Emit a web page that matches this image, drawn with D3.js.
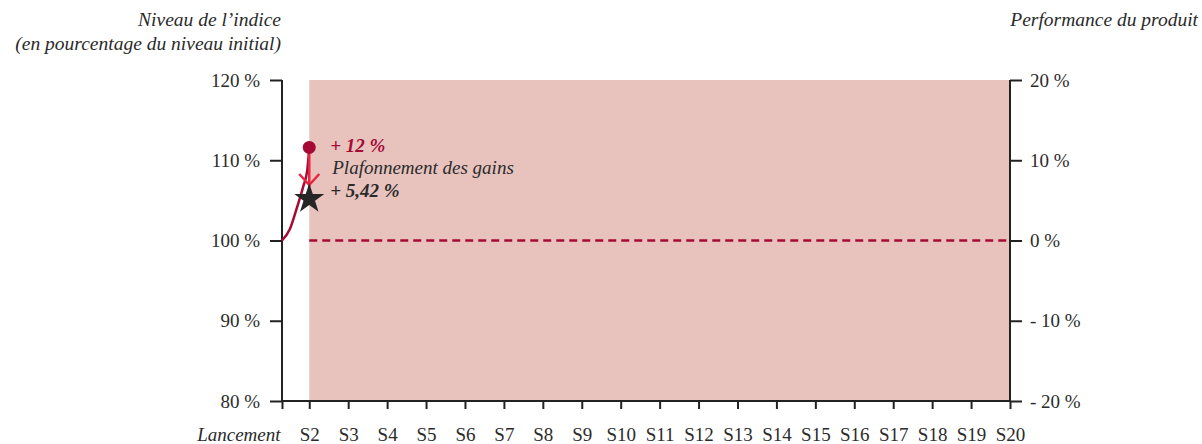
<!DOCTYPE html>
<html>
<head>
<meta charset="utf-8">
<script src="https://cdn.jsdelivr.net/npm/d3@7"></script>
<style>
  html, body { margin: 0; background: #fff; }
  text { font-family: "Liberation Serif", "DejaVu Serif", serif; fill: #2b2b2b; }
</style>
</head>
<body>
<script>
// observation dates: Lancement then S2..S20
const obsLabels = ['Lancement', 'S2', 'S3', 'S4', 'S5', 'S6', 'S7', 'S8', 'S9', 'S10',
  'S11', 'S12', 'S13', 'S14', 'S15', 'S16', 'S17', 'S18', 'S19', 'S20'];
const obsPos = [1.3, 2, 3, 4, 5, 6, 7, 8, 9, 10, 11, 12, 13, 14, 15, 16, 17, 18, 19, 20];

const leftTicks = [80, 90, 100, 110, 120];
const rightTicks = [-20, -10, 0, 10, 20];
const rightLabels = ['- 20 %', '- 10 %', '0 %', '10 %', '20 %'];

// index path between launch and S2
const indexPath = [[1.3, 100], [1.5, 101.4], [1.69, 104.2], [1.85, 106.8], [1.95, 108.8], [2, 111.6]];
const peak = { x: 2, y: 111.6, label: '+ 12 %' };
const capped = { x: 2, y: 105.42, label: '+ 5,42 %', note: 'Plafonnement des gains' };

const width = 1202;
const height = 444;

const svg = d3.select('body')
  .append('svg')
  .attr('width', width)
  .attr('height', height);

const x = d3.scaleLinear().domain([1.3, 20]).range([282, 1010]);
const y = d3.scaleLinear().domain([80, 120]).range([401, 80]);
const yr = d3.scaleLinear().domain([-20, 20]).range([401, 80]);

const ink = '#222';
const crimson = '#a50a35';
const fs = '19px';

// shaded zone S2 -> S20
svg.append('rect')
  .attr('x', x(2))
  .attr('y', y(120))
  .attr('width', x(20) - x(2))
  .attr('height', y(80) - y(120))
  .attr('fill', '#e8c3be');

// 100 % dashed line
svg.append('line')
  .attr('x1', x(2)).attr('x2', x(20))
  .attr('y1', y(100)).attr('y2', y(100))
  .attr('stroke', crimson)
  .attr('stroke-width', 2.5)
  .attr('stroke-dasharray', '8,5');

// axes
const left = svg.append('g')
  .attr('transform', `translate(${x(1.3)},0)`)
  .call(d3.axisLeft(y).tickValues(leftTicks).tickSize(12).tickPadding(10)
    .tickFormat(d => d + ' %'));

const right = svg.append('g')
  .attr('transform', `translate(${x(20)},0)`)
  .call(d3.axisRight(yr).tickValues(rightTicks).tickSize(12).tickPadding(8)
    .tickFormat((d, i) => rightLabels[i]));

const bottom = svg.append('g')
  .attr('transform', `translate(0,${y(80)})`)
  .call(d3.axisBottom(x).tickValues(obsPos).tickSize(8).tickPadding(19)
    .tickFormat((d, i) => obsLabels[i]));

[left, right, bottom].forEach(g => {
  g.select('.domain').attr('stroke', ink).attr('stroke-width', 2);
  g.selectAll('.tick line').attr('stroke', ink).attr('stroke-width', 2);
  g.selectAll('.tick text')
    .style('font-family', '"Liberation Serif", serif')
    .style('font-size', fs)
    .attr('fill', '#2b2b2b');
});
left.select('.domain').attr('d', `M0,${y(80)}V${y(120)}`);
right.select('.domain').attr('d', `M0,${yr(-20)}V${yr(20)}`);
bottom.select('.domain').attr('d', `M${x(1.3)},0H${x(20)}`);

// "Lancement" label right aligned and italic
bottom.selectAll('.tick text')
  .filter((d, i) => i === 0)
  .attr('text-anchor', 'end')
  .attr('x', -2)
  .style('font-style', 'italic');

// axis titles
const title = (tx, ty, t) => svg.append('text')
  .attr('x', tx).attr('y', ty)
  .attr('text-anchor', 'end')
  .style('font-style', 'italic')
  .style('font-size', '19.5px')
  .text(t);
title(281, 26, 'Niveau de l’indice');
title(281, 50, '(en pourcentage du niveau initial)');
title(1198, 26, 'Performance du produit');

// index curve
svg.append('path')
  .datum(indexPath)
  .attr('d', d3.line().x(d => x(d[0])).y(d => y(d[1])).curve(d3.curveMonotoneX))
  .attr('fill', 'none')
  .attr('stroke', crimson)
  .attr('stroke-width', 2.5);

// arrow from peak down to capped value
const arrowColor = '#e8263f';
svg.append('line')
  .attr('x1', x(peak.x)).attr('x2', x(capped.x))
  .attr('y1', y(peak.y)).attr('y2', y(capped.y) - 10)
  .attr('stroke', arrowColor)
  .attr('stroke-width', 2.5);
svg.append('path')
  .attr('d', `M${x(peak.x) - 10},${y(capped.y) - 23}L${x(peak.x)},${y(capped.y) - 12}L${x(peak.x) + 10},${y(capped.y) - 23}`)
  .attr('fill', 'none')
  .attr('stroke', arrowColor)
  .attr('stroke-width', 2.5);

svg.append('circle')
  .attr('cx', x(peak.x)).attr('cy', y(peak.y))
  .attr('r', 6.5)
  .attr('fill', crimson);

svg.append('path')
  .attr('d', d3.symbol().type(d3.symbolStar).size(280)())
  .attr('transform', `translate(${x(capped.x)},${y(capped.y) + 2})`)
  .attr('fill', '#262626');

// annotations
svg.append('text')
  .attr('x', x(peak.x) + 21).attr('y', y(peak.y) + 5)
  .style('font-style', 'italic').style('font-weight', 'bold')
  .style('font-size', fs)
  .style('fill', crimson)
  .text(peak.label);
svg.append('text')
  .attr('x', x(peak.x) + 23).attr('y', y(peak.y) + 27)
  .style('font-style', 'italic')
  .style('font-size', fs)
  .text(capped.note);
svg.append('text')
  .attr('x', x(peak.x) + 21).attr('y', y(capped.y) + 0)
  .style('font-style', 'italic').style('font-weight', 'bold')
  .style('font-size', fs)
  .text(capped.label);
</script>
</body>
</html>
